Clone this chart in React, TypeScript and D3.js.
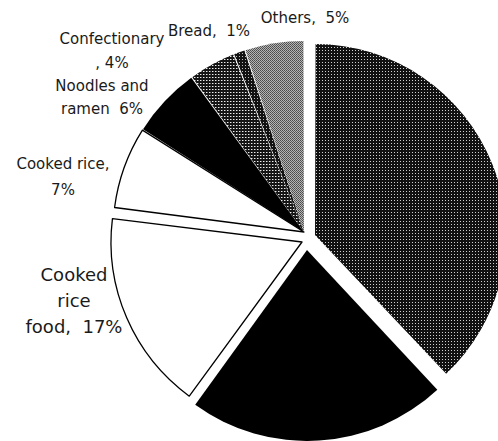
import React from 'react';
import * as d3 from 'd3';

// ---- data (clockwise from 12 o'clock) ----
const categories = [
  'Unlabeled (cropped) A',
  'Unlabeled (cropped) B',
  'Cooked rice food',
  'Cooked rice',
  'Noodles and ramen',
  'Confectionary',
  'Bread',
  'Others',
];
const values = [38, 22, 17, 7, 6, 4, 1, 5];
// label lines; "{v}" is replaced by the value
const labelLines: string[][] = [
  [],
  [],
  ['Cooked', 'rice', 'food,  {v}%'],
  ['Cooked rice,', '{v}%'],
  ['Noodles and', 'ramen  {v}%'],
  ['Confectionary', ', {v}%'],
  ['Bread,  {v}%'],
  ['Others,  {v}%'],
];

// ---- layout / style ----
const W = 498;
const H = 441;
const CX = 304;
const CY = 232;
const R = 191;
// explosion offsets per slice
const EXPLODE = [
  [11, 3],
  [3, 18],
  [-2, 10],
  [0, 0],
  [0, 0],
  [0, 0],
  [0, 0],
  [0, 0],
];
const FILLS = [
  'url(#darkDots)',
  '#000',
  '#fff',
  '#fff',
  '#000',
  'url(#confDots)',
  'url(#breadDots)',
  'url(#grayDots)',
];
// label anchor (center x, first baseline y, font size, line height)
const LABEL_POS: (null | { x: number; y: number; fs: number; lh: number })[] = [
  null,
  null,
  { x: 74, y: 281, fs: 18, lh: 26 },
  { x: 63, y: 169, fs: 15, lh: 26 },
  { x: 102, y: 91, fs: 15, lh: 23 },
  { x: 112, y: 44, fs: 15, lh: 24 },
  { x: 209, y: 36, fs: 15, lh: 20 },
  { x: 305, y: 23, fs: 15, lh: 20 },
];

export default function App() {
  const pie = d3
    .pie<number>()
    .sort(null)
    .value((d) => d)
    .startAngle(0)
    .endAngle(2 * Math.PI);
  const arcs = pie(values);
  const arc = d3
    .arc<d3.PieArcDatum<number>>()
    .innerRadius(0)
    .outerRadius(R)
    .padAngle(0.006)
    .padRadius(R);

  const order = [3, 4, 5, 6, 7, 2, 1, 0];

  return (
    <svg
      width={W}
      height={H}
      style={{ position: 'absolute', left: 0, top: 0, background: '#fff' }}
    >
      <defs>
        <pattern id="darkDots" width="3" height="3" patternUnits="userSpaceOnUse">
          <rect width="3" height="3" fill="#111" />
          <rect x="1" y="1" width="1" height="1" fill="#d0d0d0" />
        </pattern>
        <pattern id="confDots" width="3" height="3" patternUnits="userSpaceOnUse">
          <rect width="3" height="3" fill="#151515" />
          <rect x="1" y="1" width="1" height="1" fill="#eee" />
          <rect x="2" y="1" width="1" height="1" fill="#777" />
        </pattern>
        <pattern id="breadDots" width="3" height="3" patternUnits="userSpaceOnUse">
          <rect width="3" height="3" fill="#111" />
          <rect x="1" y="1" width="1" height="1" fill="#bbb" />
        </pattern>
        <pattern id="grayDots" width="2" height="2" patternUnits="userSpaceOnUse">
          <rect width="2" height="2" fill="#b4b4b4" />
          <rect x="0" y="0" width="1" height="1" fill="#4a4a4a" />
          <rect x="1" y="1" width="1" height="1" fill="#5a5a5a" />
        </pattern>
      </defs>
      {order.map((i) => {
        const a = arcs[i];
        const [dx, dy] = EXPLODE[i];
        const isWhite = FILLS[i] === '#fff';
        return (
          <path
            key={categories[i]}
            d={arc(a) || ''}
            transform={`translate(${CX + dx},${CY + dy})`}
            fill={FILLS[i]}
            stroke={isWhite ? '#000' : 'none'}
            strokeWidth={isWhite ? 1.3 : 0}
            strokeLinejoin="round"
          />
        );
      })}
      {labelLines.map((lines, i) => {
        const p = LABEL_POS[i];
        if (!p || lines.length === 0) return null;
        return (
          <text
            key={'lbl' + i}
            x={p.x}
            y={p.y}
            textAnchor="middle"
            fontFamily="'DejaVu Sans', sans-serif"
            fontSize={p.fs}
            fill="#1a1a1a"
            style={{ whiteSpace: 'pre' }}
          >
            {lines.map((ln, j) => (
              <tspan key={j} x={p.x} dy={j === 0 ? 0 : p.lh}>
                {ln.replace('{v}', String(values[i]))}
              </tspan>
            ))}
          </text>
        );
      })}
    </svg>
  );
}
